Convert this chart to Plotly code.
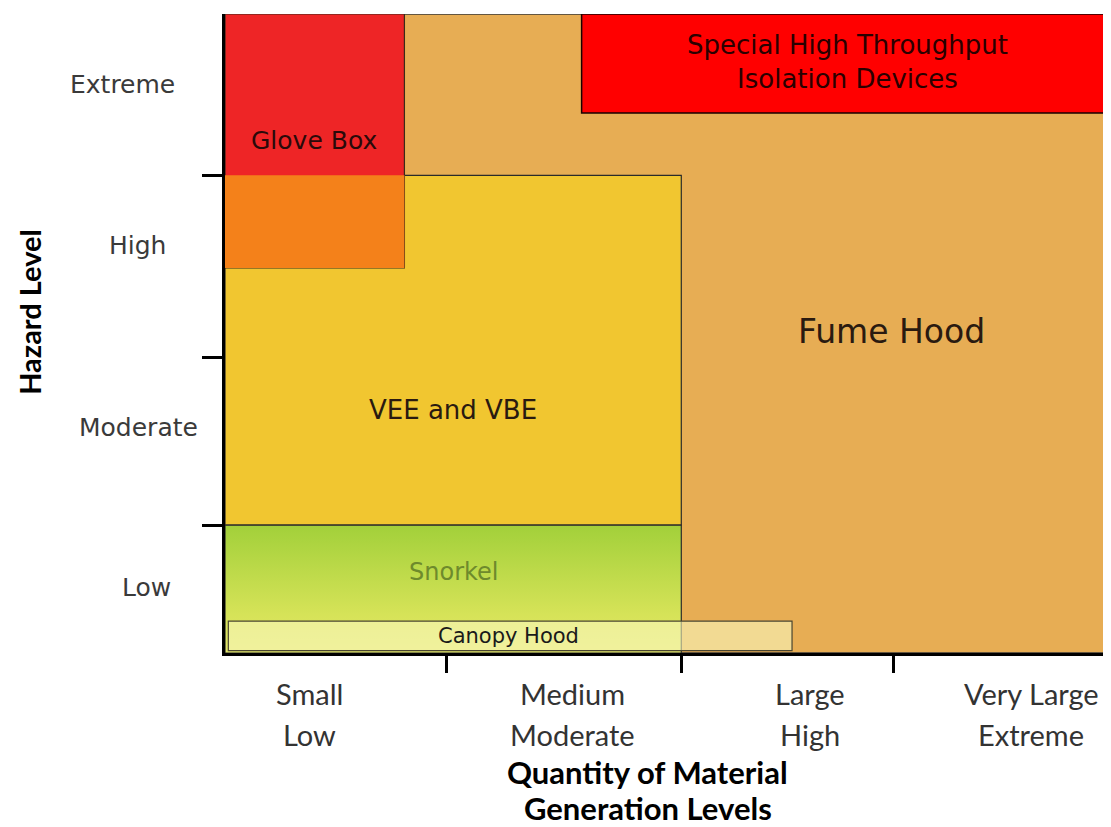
import plotly.graph_objects as go

# ---- data (axis units: 0..4 quantity levels, 0..4 hazard levels) ----
quantity_labels_top = ["Small", "Medium", "Large", "Very Large"]
generation_labels = ["Low", "Moderate", "High", "Extreme"]
quantity_label_x = [0.38, 1.57, 2.64, 3.64]
quantity_bounds = [1.0, 2.06, 3.02]

hazard_labels = ["Low", "Moderate", "High", "Extreme"]
hazard_label_y = [0.41, 1.41, 2.55, 3.56]
hazard_bounds = [0.80, 1.85, 2.99]

devices = ["Fume Hood", "VEE and VBE", "Glove Box", "Special High Throughput<br>Isolation Devices", "Snorkel", "Canopy Hood"]
dev_x0 = [0.0, 0.0, 0.0, 1.61, 0.0, 0.015]
dev_x1 = [4.0, 2.06, 0.81, 4.0, 2.06, 2.56]
dev_y0 = [0.0, 0.80, 2.41, 3.38, 0.0, 0.015]
dev_y1 = [4.0, 2.99, 4.0, 4.0, 0.80, 0.20]
label_x = [3.01, 1.03, 0.40, 2.81, 1.03, 1.28]
label_y = [2.01, 1.52, 3.21, 3.70, 0.51, 0.106]

# label placement (layout, paper units)
hazard_label_px = [-0.089, -0.098, -0.099, -0.116]

fig = go.Figure()

shapes = []
# Fume hood background
shapes.append(dict(type="rect", xref="x", yref="y", x0=dev_x0[0], x1=dev_x1[0], y0=dev_y0[0], y1=dev_y1[0],
                   fillcolor="#E7AD54", line=dict(color="#3a3a3a", width=1.5), layer="below"))
# VEE and VBE
shapes.append(dict(type="rect", xref="x", yref="y", x0=dev_x0[1], x1=dev_x1[1], y0=dev_y0[1], y1=dev_y1[1],
                   fillcolor="#F1C630", line=dict(color="#2a2a2a", width=1.2), layer="below"))
# Glove box (red), and orange part where it overlaps VEE
shapes.append(dict(type="rect", xref="x", yref="y", x0=dev_x0[2], x1=dev_x1[2], y0=dev_y0[2], y1=dev_y1[2],
                   fillcolor="#EE2526", line=dict(color="#3a2a1a", width=1.2), layer="below"))
shapes.append(dict(type="rect", xref="x", yref="y", x0=dev_x0[2], x1=dev_x1[2], y0=dev_y0[2],
                   y1=min(dev_y1[2], dev_y1[1]),
                   fillcolor="#F4811A", line=dict(color="rgba(0,0,0,0)", width=0), layer="below"))
# Special high throughput
shapes.append(dict(type="rect", xref="x", yref="y", x0=dev_x0[3], x1=dev_x1[3], y0=dev_y0[3], y1=dev_y1[3],
                   fillcolor="#FF0000", line=dict(color="#1a0000", width=1.5), layer="below"))
# Canopy hood (semi-transparent, above)
shapes.append(dict(type="rect", xref="x", yref="y", x0=dev_x0[5], x1=dev_x1[5], y0=dev_y0[5], y1=dev_y1[5],
                   fillcolor="rgba(250,248,190,0.6)", line=dict(color="#4a4530", width=1.2), layer="above"))

# Snorkel with vertical gradient
sx = [dev_x0[4], dev_x1[4], dev_x1[4], dev_x0[4], dev_x0[4]]
sy = [dev_y0[4], dev_y0[4], dev_y1[4], dev_y1[4], dev_y0[4]]
fig.add_trace(go.Scatter(x=sx, y=sy, mode="lines", fill="toself",
                         line=dict(color="#2a2a2a", width=1.2),
                         fillgradient=dict(type="vertical",
                                           colorscale=[[0, "#E2E66A"], [0.3, "#D6E358"], [1, "#A2D03A"]]),
                         hoverinfo="skip", showlegend=False))

annotations = []
dev_font = [dict(size=33, color="#2a1a10"), dict(size=26, color="#2a1a10"), dict(size=25, color="#2a0a0a"),
            dict(size=26, color="#2a0000"), dict(size=24, color="#6E8A2C"), dict(size=21, color="#1a1a1a")]
for name, lx, ly, f in zip(devices, label_x, label_y, dev_font):
    annotations.append(dict(x=lx, y=ly, xref="x", yref="y", text=name, showarrow=False,
                            font=dict(family="DejaVu Sans", **f), align="center"))

for lab, ly, px in zip(hazard_labels, hazard_label_y, hazard_label_px):
    annotations.append(dict(x=px, y=ly, xref="paper", yref="y", text=lab, showarrow=False,
                            xanchor="center", font=dict(family="DejaVu Sans", size=25, color="#3a3a3a")))

for top, bot, lx in zip(quantity_labels_top, generation_labels, quantity_label_x):
    annotations.append(dict(x=lx, y=-0.0626, xref="x", yref="paper", text=top, showarrow=False,
                            yanchor="middle", font=dict(family="Lato", size=29, color="#333333")))
    annotations.append(dict(x=lx, y=-0.128, xref="x", yref="paper", text=bot, showarrow=False,
                            yanchor="middle", font=dict(family="Lato", size=29, color="#333333")))

# axis titles
annotations.append(dict(x=0.477, y=-0.1862, xref="paper", yref="paper", text="<b>Quantity of Material</b>",
                        showarrow=False, xanchor="center", yanchor="middle",
                        font=dict(family="Lato", size=31, color="black")))
annotations.append(dict(x=0.477, y=-0.2426, xref="paper", yref="paper", text="<b>Generation Levels</b>",
                        showarrow=False, xanchor="center", yanchor="middle",
                        font=dict(family="Lato", size=31, color="black")))
annotations.append(dict(x=-0.220, y=0.534, xref="paper", yref="paper", text="<b>Hazard Level</b>",
                        showarrow=False, textangle=-90, xanchor="center", yanchor="middle",
                        font=dict(family="Lato", size=29, color="black")))

fig.update_layout(
    width=1103, height=819,
    margin=dict(l=217, r=0, t=6, b=174),
    paper_bgcolor="white", plot_bgcolor="white",
    shapes=shapes, annotations=annotations,
    showlegend=False,
    xaxis=dict(range=[0, 4], showgrid=False, zeroline=False, showline=True, linecolor="black", linewidth=3,
               tickmode="array", tickvals=quantity_bounds, ticktext=["", "", ""], ticks="outside",
               ticklen=17, tickwidth=3, tickcolor="black"),
    yaxis=dict(range=[0, 4], showgrid=False, zeroline=False, showline=True, linecolor="black", linewidth=3,
               tickmode="array", tickvals=hazard_bounds, ticktext=["", "", ""], ticks="outside",
               ticklen=20, tickwidth=3, tickcolor="black"),
)

fig.write_html("out.html")
